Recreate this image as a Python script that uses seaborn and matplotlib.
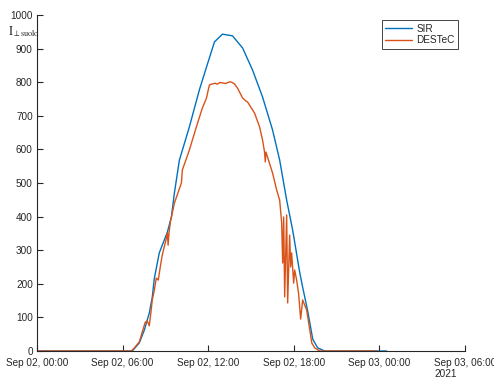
import numpy as np
import pandas as pd
import matplotlib
matplotlib.use("Agg")
import matplotlib.pyplot as plt
import matplotlib.dates as mdates
import seaborn as sns

# ---- data (hours after Sep 02 2021 00:00, irradiance) ----
sir_hours = [0.00, 6.68, 7.17, 7.52, 7.87, 8.08, 8.22, 8.57, 8.92, 9.14, 9.42, 9.63,
             9.98, 10.68, 11.38, 11.88, 12.44, 13.00, 13.70, 14.41, 15.11, 15.81,
             16.51, 17.01, 17.50, 17.92, 18.41, 18.62, 18.97, 19.33, 19.68, 20.17, 24.50]
sir_vals = [0, 0, 24, 62, 113, 160, 215, 292, 330, 354, 399, 470,
            568, 667, 777, 845, 920, 943, 938, 902, 836, 756,
            658, 568, 449, 360, 235, 190, 120, 35, 9, 0, 0]

destec_hours = [0.00, 6.61, 6.82, 7.17, 7.38, 7.59, 7.73, 7.87, 7.98, 8.08, 8.22, 8.36,
                8.50, 8.64, 8.78, 9.07, 9.14, 9.19, 9.25, 9.35, 9.63, 10.12, 10.19,
                10.68, 11.17, 11.59, 11.88, 12.02, 12.09, 12.30, 12.50, 12.65, 12.80,
                13.00, 13.20, 13.50, 13.63, 13.84, 14.06, 14.41, 14.62, 14.76, 15.25,
                15.60, 15.81, 15.95, 16.00, 16.05, 16.51, 16.80, 17.01, 17.15, 17.22,
                17.29, 17.36, 17.50, 17.57, 17.71, 17.78, 17.85, 17.99, 18.06, 18.20,
                18.34, 18.48, 18.62, 18.90, 19.12, 19.26, 19.47, 19.82, 23.80]
destec_vals = [0, 0, 9, 27, 57, 86, 89, 75, 113, 152, 180, 217,
               211, 250, 286, 336, 351, 315, 351, 384, 440, 500, 539,
               598, 667, 723, 753, 780, 792, 795, 797, 794, 799,
               798, 796, 801, 800, 795, 782, 753, 745, 741, 708,
               667, 628, 592, 563, 592, 530, 479, 449, 381, 262,
               399, 161, 405, 143, 345, 250, 292, 202, 241, 211,
               170, 95, 152, 122, 63, 24, 9, 0, 0]

series_names = ["SIR", "DESTeC"]
series_colors = ["#0072BD", "#D95319"]
y_ticks = list(range(0, 1001, 100))
x_tick_hours = [0, 6, 12, 18, 24, 30]

start = pd.Timestamp("2021-09-02 00:00")
df = pd.concat([
    pd.DataFrame({"time": start + pd.to_timedelta(sir_hours, unit="h"),
                  "value": sir_vals, "series": series_names[0]}),
    pd.DataFrame({"time": start + pd.to_timedelta(destec_hours, unit="h"),
                  "value": destec_vals, "series": series_names[1]}),
], ignore_index=True)

sns.set_style("ticks")
plt.rcParams["font.family"] = ["Liberation Sans", "DejaVu Sans"]
plt.rcParams["mathtext.fontset"] = "stix"

fig = plt.figure(figsize=(4.94, 3.78), dpi=100)
ax = fig.add_axes([37/494, 1-351/378, (465-37)/494, (351-15)/378])

sns.lineplot(data=df, x="time", y="value", hue="series", hue_order=series_names,
             palette=series_colors, estimator=None, sort=False, linewidth=1.0, ax=ax)

ax.set_xlim(start, start + pd.Timedelta(hours=30))
ax.set_ylim(0, 1000)
ax.set_yticks(y_ticks)
ax.set_xticks([start + pd.Timedelta(hours=h) for h in x_tick_hours])
ax.xaxis.set_major_formatter(mdates.DateFormatter("%b %d, %H:%M"))
ax.set_xlabel("")
ax.set_ylabel("")

sns.despine(ax=ax)
for s in ["left", "bottom"]:
    ax.spines[s].set_color("#262626")
    ax.spines[s].set_linewidth(0.8)
ax.tick_params(direction="in", length=4, width=0.8, color="#262626",
               labelsize=7.2, labelcolor="#262626")
ax.tick_params(axis="x", pad=5)
ax.tick_params(axis="y", pad=3)

# y label
fig.text(8/494, 1-32/378, r"$\mathrm{I}_{\perp\mathrm{suolo}}$", fontsize=8.5,
         ha="left", va="center", color="#262626")

# year label under last tick
fig.text(434/494, 1-369/378, "2021", fontsize=7.2, ha="left", va="top", color="#262626")

handles, labels = ax.get_legend_handles_labels()
leg = ax.legend(handles, labels, loc="upper right", bbox_to_anchor=(0.984, 0.985),
                borderaxespad=0, fontsize=7.2, frameon=True, fancybox=False,
                framealpha=1, edgecolor="#262626", handlelength=2.7,
                labelspacing=0.15, borderpad=0.35, handletextpad=0.4)
leg.get_frame().set_linewidth(0.6)

fig.savefig("out.png", dpi=100)
